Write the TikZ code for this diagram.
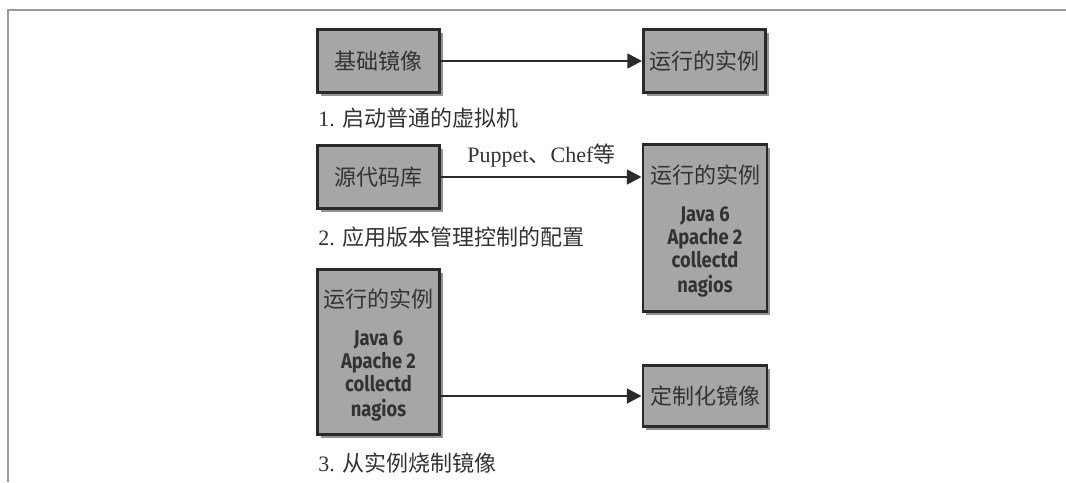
\documentclass[tikz,border=0pt]{standalone}
\usepackage{fontspec}
\setmainfont{Liberation Serif}
\newfontfamily\cjk{Noto Sans CJK SC}
\newfontfamily\listfont[FakeStretch=0.86]{Fira Sans}
\newcommand\swlist{{\listfont\bfseries\fontsize{16}{17.3}\selectfont
  \begin{tabular}{@{}c@{}}Java 6\\Apache 2\\collectd\\nagios\end{tabular}}}
\usetikzlibrary{arrows.meta,shadows}
\definecolor{boxfill}{HTML}{A6A6A6}
\definecolor{boxline}{HTML}{2A2A2A}
\definecolor{txt}{HTML}{333333}
\definecolor{frame}{HTML}{9A9A9A}
\begin{document}
\begin{tikzpicture}[x=0.75pt,y=-0.75pt,
  box/.style={draw=boxline,line width=2.2pt,fill=boxfill,text=txt,
    inner sep=0pt,align=center,
    drop shadow={shadow xshift=2.5pt,shadow yshift=-2.5pt,fill=black!60,opacity=0.7},
    font=\cjk\fontsize{16.5}{19}\selectfont},
  conn/.style={draw=boxline,line width=1.9pt,-{Triangle[length=11pt,width=11pt]}},
  caption/.style={anchor=west,text=txt,inner sep=0pt,font=\fontsize{16.5}{19}\selectfont}]
\useasboundingbox (0,0) rectangle (1066,482);
\draw[frame,line width=1.5pt] (8,482) -- (8,10) -- (1066,10);

\node[box,minimum width=92pt,minimum height=47pt] (b1) at (378.5,61) {基础镜像};
\node[box,minimum width=91.5pt,minimum height=47pt] (b2) at (704.5,61) {运行的实例};
\node[caption] (c1) at (318,118) {1. {\cjk 启动普通的虚拟机}};

\node[box,minimum width=92pt,minimum height=47pt] (b3) at (378.5,177) {源代码库};
\node[box,minimum width=93pt,minimum height=125pt] (b4) at (705,228)
  {\rule{0pt}{20pt}运行的实例\\[14pt]\swlist};
\node[caption] (c2) at (318,237) {2. {\cjk 应用版本管理控制的配置}};

\node[box,minimum width=92pt,minimum height=124pt] (b5) at (378.5,352)
  {\rule{0pt}{20pt}运行的实例\\[14pt]\swlist};
\node[box,minimum width=93pt,minimum height=46pt] (b6) at (705,396) {定制化镜像};
\node[caption] (c3) at (318,463) {3. {\cjk 从实例烧制镜像}};

\draw[conn] (b1.east) -- (b2.west);
\draw[conn] (b3.east) -- node[above=3pt,text=txt,font=\fontsize{16.5}{19}\selectfont] (l2) {Puppet{\cjk 、}Chef{\cjk 等}} (b3.east -| b4.west);
\draw[conn] (b6.west -| b5.east) -- (b6.west);
\end{tikzpicture}
\end{document}
